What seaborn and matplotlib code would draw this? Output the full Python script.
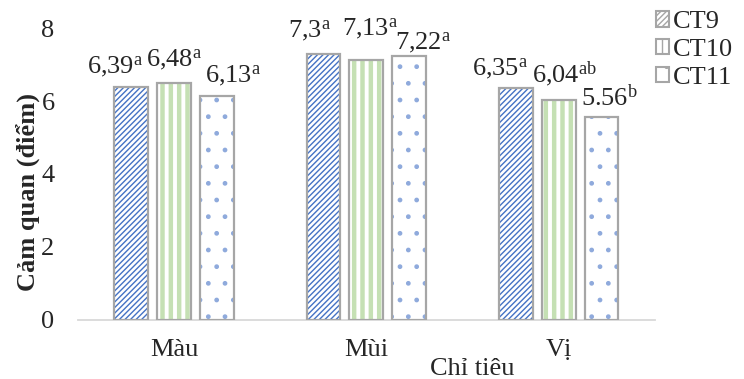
import pandas as pd
import matplotlib.pyplot as plt
import seaborn as sns
from matplotlib.patches import Patch, Rectangle

categories = ['Màu', 'Mùi', 'Vị']
treatments = ['CT9', 'CT10', 'CT11']
ct9 = [6.39, 7.30, 6.35]
ct10 = [6.48, 7.13, 6.04]
ct11 = [6.13, 7.22, 5.56]
labels_ct9 = ['6,39$^{a}$', '7,3$^{a}$', '6,35$^{a}$']
labels_ct10 = ['6,48$^{a}$', '7,13$^{a}$', '6,04$^{ab}$']
labels_ct11 = ['6,13$^{a}$', '7,22$^{a}$', '5.56$^{b}$']

# label nudges in pixels (dx from bar centre, dy of baseline above bar top)
nudge = {
    'CT9': [(-16, 14), (-14, 17), (-16, 13)],
    'CT10': [(0, 17), (4, 25), (6, 17)],
    'CT11': [(16, 14), (14, 7), (8, 11)],
}

df = pd.DataFrame({
    'Chỉ tiêu': categories * 3,
    'CT': ['CT9'] * 3 + ['CT10'] * 3 + ['CT11'] * 3,
    'val': ct9 + ct10 + ct11,
})

sns.set_style('white')
plt.rcParams['font.family'] = ['Liberation Serif', 'DejaVu Serif']
plt.rcParams['mathtext.fontset'] = 'custom'
plt.rcParams['mathtext.rm'] = 'Liberation Serif'
plt.rcParams['mathtext.it'] = 'Liberation Serif'
plt.rcParams['mathtext.default'] = 'regular'

hatch_col = {'CT9': '#4472c4', 'CT10': '#c5e0b4', 'CT11': '#8faadc'}
hatch_pat = {'CT9': '//////', 'CT10': '||', 'CT11': '.'}
edge = '#a6a6a6'
fs = 19

fig = plt.figure(figsize=(7.44, 3.79), dpi=100)
ax = fig.add_axes([0.105, 0.1557, 0.775, 0.7704])

sns.barplot(data=df, x='Chỉ tiêu', y='val', hue='CT', hue_order=treatments,
            order=categories, palette=['white'] * 3, width=0.67, gap=0.21,
            legend=False, ax=ax)

all_labels = [labels_ct9, labels_ct10, labels_ct11]
for cont, ct, labs in zip(ax.containers, treatments, all_labels):
    for bar, lab, (dx, dy) in zip(cont, labs, nudge[ct]):
        bar.set_hatch(hatch_pat[ct])
        bar.set_edgecolor(hatch_col[ct])
        bar.set_linewidth(0)
        if ct == 'CT10' and hasattr(bar, 'set_hatch_linewidth'):
            bar.set_hatch_linewidth(3.2)
        x, y = bar.get_x(), bar.get_y()
        w, h = bar.get_width(), bar.get_height()
        ax.add_patch(Rectangle((x, y), w, h, fill=False, edgecolor=edge,
                               linewidth=1.6, zorder=3))
        ax.annotate(lab, (x + w / 2, h), xytext=(dx, dy), textcoords='offset pixels',
                    ha='center', va='baseline', fontsize=fs)

ax.set_ylim(0, 8)
ax.set_yticks([0, 2, 4, 6, 8])
ax.tick_params(axis='y', length=0, pad=17, labelsize=fs)
ax.tick_params(axis='x', length=0, pad=14, labelsize=fs)
for s in ['left', 'right', 'top']:
    ax.spines[s].set_visible(False)
ax.spines['bottom'].set_color('#d9d9d9')
ax.spines['bottom'].set_linewidth(1.3)

ax.set_ylabel('Cảm quan (điểm)', fontsize=fs, fontweight='bold')
ax.yaxis.set_label_coords(-0.066, 0.44)
ax.set_xlabel('Chỉ tiêu', fontsize=fs)
ax.xaxis.set_label_coords(0.683, -0.13)

handles = []
for ct in treatments:
    hp = Patch(facecolor='white', edgecolor=hatch_col[ct], hatch=hatch_pat[ct],
               linewidth=0, label=ct)
    handles.append(hp)
leg = fig.legend(handles=handles, loc='upper left', bbox_to_anchor=(0.882, 0.97),
                 frameon=False, fontsize=fs, handlelength=0.5, handleheight=0.5,
                 handletextpad=0.15, labelspacing=0.22, borderpad=0,
                 borderaxespad=0)
for hp in leg.get_patches():
    hp.set_edgecolor(edge)
    hp.set_linewidth(1.5)

fig.savefig('out.png', dpi=100)
